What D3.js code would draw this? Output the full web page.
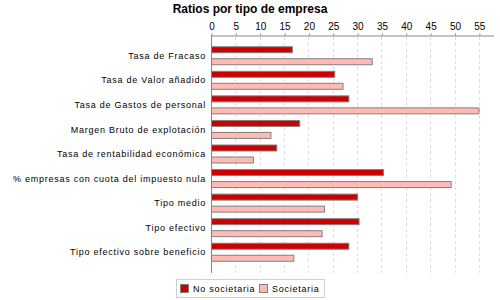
<!DOCTYPE html>
<html>
<head>
<meta charset="utf-8">
<script src="https://cdn.jsdelivr.net/npm/d3@7"></script>
<style>
  body { margin: 0; background: #fff; }
  text { font-family: "Liberation Sans", Arial, sans-serif; }
</style>
</head>
<body>
<div id="chart"></div>
<script>
let categories = [
    "Tasa de Fracaso",
    "Tasa de Valor añadido",
    "Tasa de Gastos de personal",
    "Margen Bruto de explotación",
    "Tasa de rentabilidad económica",
    "% empresas con cuota del impuesto nula",
    "Tipo medio",
    "Tipo efectivo",
    "Tipo efectivo sobre beneficio"
]
let seriesNames = ["No societaria", "Societaria"]
let noSocietaria = [16.6, 25.3, 28.2, 18.1, 13.4, 35.3, 30.0, 30.3, 28.2]
let societaria = [33.0, 27.0, 54.9, 12.2, 8.6, 49.2, 23.2, 22.7, 16.9]
let tickValues = [0, 5, 10, 15, 20, 25, 30, 35, 40, 45, 50, 55]

let colors = ["#cc0000", "#ffbbb3"]

let svgWidth = 500, svgHeight = 300
let margin = {top: 35, left: 211, right: 7, bottom: 27}
let width = svgWidth - margin.left - margin.right
let height = svgHeight - margin.top - margin.bottom

let svg = d3.select('#chart')
    .append('svg')
    .attr('width', svgWidth)
    .attr('height', svgHeight)

svg.append('text')
    .attr('x', 250)
    .attr('y', 13)
    .attr('text-anchor', 'middle')
    .attr('font-size', '12px')
    .attr('font-weight', 'bold')
    .text('Ratios por tipo de empresa')

let chart = svg.append('g')
    .attr('transform', `translate(${margin.left},${margin.top})`)

let xScale = d3.scaleLinear()
    .domain([0, 57.9])
    .range([0, width])

let yScale = d3.scaleBand()
    .domain(categories)
    .range([0, height])
    .paddingInner(0.226)
    .paddingOuter(0.458)

let subScale = d3.scaleBand()
    .domain(seriesNames)
    .range([0, yScale.bandwidth()])
    .paddingInner(0.455)

// dashed grid
chart.append('g')
    .selectAll('line')
    .data(tickValues.slice(1))
    .join('line')
    .attr('x1', d => Math.round(xScale(d)) + 0.5)
    .attr('x2', d => Math.round(xScale(d)) + 0.5)
    .attr('y1', 2)
    .attr('y2', height)
    .attr('stroke', '#dcdcdc')
    .attr('stroke-dasharray', '3,3')

// top axis
let xAxis = chart.append('g')
    .attr('transform', 'translate(0.5,0.5)')
    .call(d3.axisTop(xScale).tickValues(tickValues).tickSize(2).tickPadding(4).tickSizeOuter(0))
xAxis.select('.domain').attr('stroke', '#888')
xAxis.selectAll('.tick line').attr('stroke', '#888')
xAxis.selectAll('.tick text')
    .attr('font-size', '10px')
    .attr('font-family', '"Liberation Sans", Arial, sans-serif')
    .attr('fill', '#000')

// left axis line
chart.append('line')
    .attr('x1', 0.5).attr('x2', 0.5)
    .attr('y1', 0).attr('y2', height)
    .attr('stroke', '#888')

let rows = categories.map((c, i) => ({cat: c, values: [noSocietaria[i], societaria[i]]}))

let groups = chart.append('g')
    .selectAll('g')
    .data(rows)
    .join('g')
    .attr('transform', d => `translate(0,${yScale(d.cat)})`)

groups.selectAll('rect')
    .data(d => d.values.map((v, j) => ({name: seriesNames[j], value: v, j: j})))
    .join('rect')
    .attr('x', 0.5)
    .attr('y', d => Math.round(subScale(d.name)) + 0.5)
    .attr('width', d => xScale(d.value))
    .attr('height', Math.round(subScale.bandwidth()) - 1)
    .attr('fill', d => colors[d.j])
    .attr('stroke', '#808080')
    .attr('stroke-width', 1)

// category labels
chart.append('g')
    .selectAll('text')
    .data(categories)
    .join('text')
    .attr('x', -5)
    .attr('y', d => yScale(d) + yScale.bandwidth() / 2)
    .attr('dy', '0.35em')
    .attr('text-anchor', 'end')
    .attr('font-size', '9px')
    .attr('letter-spacing', '0.75px')
    .text(d => d)

// legend
let legend = svg.append('g')
legend.append('rect')
    .attr('x', 176.5).attr('y', 279.5)
    .attr('width', 148).attr('height', 18)
    .attr('fill', '#fff')
    .attr('stroke', '#d0d0d0')

let legendX = [180, 259]
seriesNames.forEach((name, i) => {
    legend.append('rect')
        .attr('x', legendX[i] + 0.5).attr('y', 284.5)
        .attr('width', 8).attr('height', 8)
        .attr('fill', colors[i])
        .attr('stroke', '#808080')
    legend.append('text')
        .attr('x', legendX[i] + 13)
        .attr('y', 292)
        .attr('font-size', '9px')
        .attr('letter-spacing', '0.75px')
        .text(name)
})
</script>
</body>
</html>
